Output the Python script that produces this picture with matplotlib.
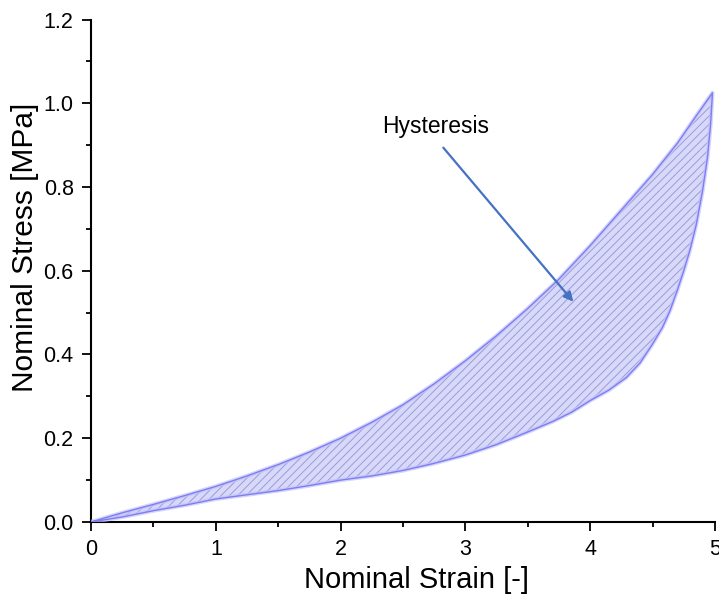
import matplotlib
matplotlib.use("Agg")
import matplotlib.pyplot as plt
import numpy as np

plt.rcParams['font.family'] = ['Liberation Sans', 'DejaVu Sans']
plt.rcParams['hatch.linewidth'] = 0.7

# Loading branch (upper curve)
loading_strain = [0, 0.25, 0.5, 0.75, 1.0, 1.25, 1.5, 1.75, 2.0, 2.25, 2.5, 2.75,
                  3.0, 3.25, 3.5, 3.75, 4.0, 4.25, 4.5, 4.7, 4.85, 4.98]
loading_stress = [0, 0.022, 0.042, 0.063, 0.085, 0.110, 0.137, 0.167, 0.200, 0.238,
                  0.280, 0.330, 0.385, 0.445, 0.510, 0.580, 0.660, 0.745, 0.830,
                  0.905, 0.970, 1.025]

# Unloading branch (lower curve), from the peak back to zero
unloading_strain = [4.98, 4.965, 4.94, 4.90, 4.85, 4.80, 4.75, 4.70, 4.64, 4.58, 4.50,
                    4.40, 4.29, 4.15, 4.00, 3.85, 3.70, 3.50, 3.25, 3.0, 2.75, 2.5,
                    2.25, 2.0, 1.75, 1.5, 1.25, 1.0, 0.75, 0.5, 0.25, 0]
unloading_stress = [1.025, 0.95, 0.87, 0.79, 0.71, 0.65, 0.60, 0.555, 0.505, 0.465, 0.425,
                    0.38, 0.345, 0.315, 0.29, 0.262, 0.24, 0.215, 0.185, 0.16, 0.14,
                    0.123, 0.11, 0.10, 0.087, 0.075, 0.065, 0.055, 0.04, 0.027, 0.012, 0]

x_ticks = [0, 1, 2, 3, 4, 5]
y_ticks = [0.0, 0.2, 0.4, 0.6, 0.8, 1.0, 1.2]

fig = plt.figure(figsize=(7.19, 6.02), dpi=100)
ax = fig.add_axes([0.1266, 0.1329, 0.8678, 0.8347])

loop_x = np.concatenate([loading_strain, unloading_strain])
loop_y = np.concatenate([loading_stress, unloading_stress])

ax.fill(loop_x, loop_y, facecolor='#d8d8fa', edgecolor='none', zorder=1)
ax.fill(loop_x, loop_y, facecolor='none', edgecolor='#9c9cd6', hatch='////',
        linewidth=0, zorder=2)
ax.plot(loop_x, loop_y, color='#c4c4fb', linewidth=3.0, alpha=0.7, zorder=3,
        solid_joinstyle='round')
ax.plot(loop_x, loop_y, color='#7e7ef2', linewidth=1.0, zorder=4,
        solid_joinstyle='round')

ax.annotate('', xy=(3.865, 0.526), xytext=(2.823, 0.894),
            arrowprops=dict(arrowstyle='-|>', color='#4472c4', lw=1.6,
                            mutation_scale=14, shrinkA=0, shrinkB=0), zorder=5)
ax.text(2.765, 0.944, 'Hysteresis', fontsize=16.5, ha='center', va='center')

ax.set_xlim(0, 5)
ax.set_ylim(0, 1.2)
ax.set_xticks(x_ticks)
ax.set_yticks(y_ticks)
ax.set_xticklabels([str(t) for t in x_ticks])
ax.set_yticklabels([f'{t:.1f}' for t in y_ticks])
ax.set_xticks(np.arange(0.5, 5, 1.0), minor=True)
ax.set_yticks(np.arange(0.1, 1.2, 0.2), minor=True)

for side in ('top', 'right'):
    ax.spines[side].set_visible(False)
for side in ('left', 'bottom'):
    ax.spines[side].set_linewidth(1.5)

ax.tick_params(which='major', direction='out', length=6.5, width=1.3,
               labelsize=15.5, pad=6)
ax.tick_params(which='minor', direction='out', length=3.5, width=1.3)

ax.set_xlabel('Nominal Strain [-]', fontsize=21)
ax.set_ylabel('Nominal Stress [MPa]', fontsize=21.5)
ax.xaxis.set_label_coords(0.522, -0.115)
ax.xaxis.label.set_va('center')
ax.yaxis.set_label_coords(-0.106, 0.547)
ax.yaxis.label.set_va('center')

fig.savefig('out.png', dpi=100)
